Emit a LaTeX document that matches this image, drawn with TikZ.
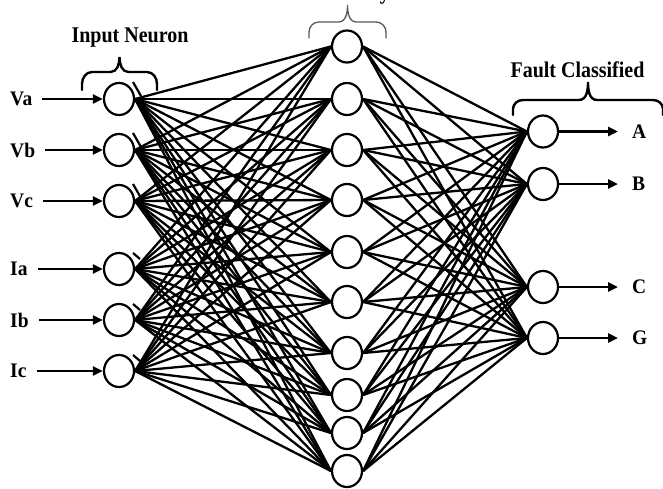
\documentclass[tikz,border=0pt]{standalone}
\usepackage{fontspec}
\setmainfont{Liberation Serif}
\usetikzlibrary{arrows.meta,shapes.geometric,calc}

% bold text, slightly stretched upwards
\newcommand{\tallbf}[2]{\scalebox{1}[#1]{#2}}

\tikzset{
  neuron/.style={ellipse, draw, line width=2.2pt, fill=white,
                 minimum width=30pt, minimum height=32pt, inner sep=0pt},
  lbl/.style={font=\fontsize{19.5}{22}\selectfont\bfseries, inner sep=3pt},
  title/.style={font=\fontsize{20}{23}\selectfont\bfseries, inner sep=3pt},
  link/.style={line width=2.3pt},
  feed/.style={line width=2.5pt, -{Triangle[length=10pt,width=9pt]}},
  nick/.style={line width=2.2pt},
  bracebold/.style={line width=2.4pt, black},
  bracethin/.style={line width=1.3pt, black!65},
  % curly brace: half width, height of the flat part, line style
  pics/curly/.style n args={3}{code={
    \draw[line cap=round, #3]
      (-#1,0) -- (-#1,6) to[out=90,in=180] (-#1+10,#2) -- (-9,#2)
      to[out=0,in=-90] (0,33) to[out=-90,in=180] (9,#2)
      -- (#1-10,#2) to[out=0,in=90] (#1,6) -- (#1,0);
  }},
}

\begin{document}
\begin{tikzpicture}[x=1pt,y=1pt]
  \fill[white] (0,0) rectangle (663,-488);
  \useasboundingbox (0,0) rectangle (663,-488);

  % input layer
  \foreach [count=\i] \y/\t in {99/Va,150/Vb,201/Vc,269/Ia,320/Ib,371/Ic} {
    \node[neuron] (in\i) at (119,-\y) {};
    \node[lbl, anchor=west] (tin\i) at (7,-\y) {\tallbf{1.06}{\t}};
    \draw[feed, shorten <=7pt] (tin\i) -- (in\i);
  }

  % hidden layer
  \foreach [count=\j] \y in {46.5,99,150,200,252,302,353,395,433,471}
    \node[neuron] (hid\j) at (347,-\y) {};

  % output layer
  \foreach [count=\k] \y/\t in {131.5/A,184/B,287/C,338/G} {
    \node[neuron] (out\k) at (543,-\y) {};
    \node[lbl, anchor=west] (tout\k) at (629,-\y) {\tallbf{1.06}{\t}};
    \draw[feed, shorten >=11pt] (out\k) -- (tout\k);
  }

  % full connections
  \foreach \i in {1,...,6}
    \foreach \j in {1,...,10}
      \draw[link] (in\i.east) -- (hid\j.west);
  \foreach \j in {1,...,10}
    \foreach \k in {1,...,4}
      \draw[link] (hid\j.east) -- (out\k.west);

  % short strokes beside the input neurons
  \foreach \i in {1,2,3}
    \draw[nick] ($(in\i)+(14,17)$) -- ($(in\i)+(22,3)$);
  \foreach \i in {4,5,6}
    \draw[nick] ($(in\i)+(14,16)$) -- ($(in\i)+(21,10)$);

  % braces and group titles
  \pic at (119.5,-90) {curly={37.5}{18}{bracebold}};
  \pic at (347.5,-38) {curly={38.5}{16}{bracethin}};
  \pic at (588,-115) {curly={75}{15}{bracebold}};

  \node[title, anchor=base] (tinput) at (130,-42) {\tallbf{1.12}{Input Neuron}};
  \node[title, anchor=base] (thidden) at (348,1) {\tallbf{1.12}{Hidden Layer}};
  \node[title, anchor=base] (tfault) at (577.5,-77) {\tallbf{1.12}{Fault Classified}};
\end{tikzpicture}
\end{document}
